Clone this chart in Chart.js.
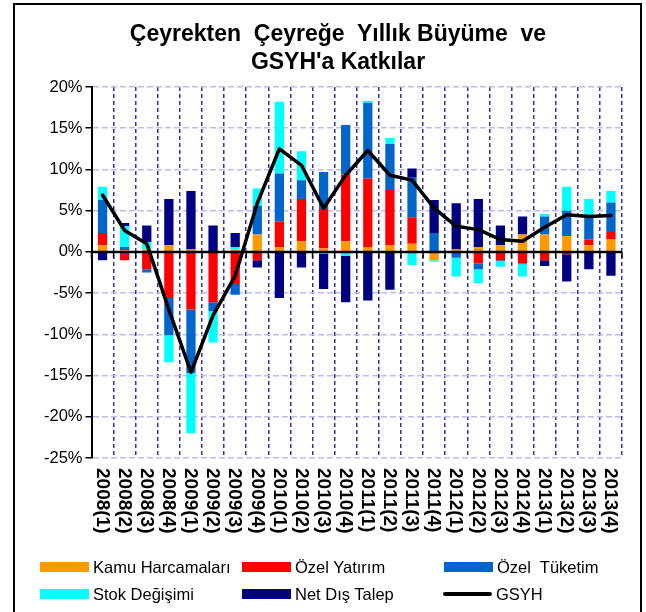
<!DOCTYPE html>
<html>
<head>
<meta charset="utf-8">
<script src="https://cdn.jsdelivr.net/npm/chart.js@4"></script>
<style>
	body { margin: 0; background: #fff; font-family: "Liberation Sans", Arial, sans-serif; }
	#wrap { position: relative; width: 646px; height: 612px; overflow: hidden; }
	#frame { position: absolute; left: 13px; top: 3px; width: 629px; height: 640px; border: 2px solid #000; box-sizing: border-box; }
	#title { position: absolute; left: 0; top: 19px; width: 676px; text-align: center; font-weight: bold; font-size: 23px; line-height: 28px; white-space: pre; }
	#chartBox { position: absolute; left: 0; top: 0; width: 646px; height: 612px; }
	.lg { position: absolute; font-size: 16.5px; white-space: pre; line-height: 20px; }
	.sw { position: absolute; width: 49px; height: 10px; }
</style>
</head>
<body>
<div id="wrap">
	<div id="frame"></div>
	<div id="chartBox"><canvas id="growth"></canvas></div>
	<div id="title">Çeyrekten  Çeyreğe  Yıllık Büyüme  ve
GSYH'a Katkılar</div>
	<div id="legend"></div>
</div>
<script>
// quarters
var quarters = ['2008(1)', '2008(2)', '2008(3)', '2008(4)',
	'2009(1)', '2009(2)', '2009(3)', '2009(4)',
	'2010(1)', '2010(2)', '2010(3)', '2010(4)',
	'2011(1)', '2011(2)', '2011(3)', '2011(4)',
	'2012(1)', '2012(2)', '2012(3)', '2012(4)',
	'2013(1)', '2013(2)', '2013(3)', '2013(4)'];

// contributions, percentage points
var kamu = [0.8, 0.2, 0.3, 0.8, 0.3, 0.0, 0.3, 2.1, 0.6, 1.3, 0.4, 1.3,
	0.6, 0.8, 1.0, -1.0, 0.3, 0.6, 0.8, 2.1, 2.1, 1.9, 0.8, 1.5];
var ozelYatirim = [1.5, -1.0, -2.1, -5.6, -7.0, -6.1, -3.9, -1.0, 3.1, 5.1, 4.8, 8.1,
	8.3, 6.7, 3.2, 0.0, 0.0, -1.4, -1.0, -1.4, -1.0, -0.3, 0.7, 0.9];
var ozelTuketim = [4.0, 0.4, -0.4, -4.5, -7.7, -1.1, -1.3, 3.5, 5.8, 2.3, 4.5, 6.0,
	9.2, 5.6, 4.8, 2.3, -0.7, -0.7, -0.1, -0.1, 2.2, 3.1, 3.0, 3.6];
var stok = [1.6, 2.5, 0.9, -3.3, -7.3, -3.8, 0.3, 2.1, 8.7, 3.5, -0.2, -0.5,
	0.2, 0.7, -1.6, -0.2, -2.3, -1.7, -0.7, -1.5, 0.3, 2.9, 1.9, 1.4];
var netDis = [-1.0, 0.4, 2.0, 5.6, 7.1, 3.2, 1.7, -0.9, -5.6, -1.9, -4.3, -5.6,
	-5.9, -4.6, 1.1, 4.0, 5.6, 5.8, 2.4, 2.2, -0.7, -3.3, -2.1, -2.9];
// GDP growth, yoy %
var gsyh = [6.9, 2.6, 1.0, -7.0, -14.6, -7.7, -2.9, 5.9, 12.5, 10.5, 5.3, 9.3,
	12.3, 9.3, 8.7, 5.3, 3.1, 2.7, 1.5, 1.3, 3.0, 4.5, 4.3, 4.4];

var seriesNames = ['Kamu Harcamaları', 'Özel Yatırım', 'Özel  Tüketim', 'Stok Değişimi', 'Net Dış Talep', 'GSYH'];
var seriesColors = ['#FF9900', '#FF0000', '#0066CC', '#00FFFF', '#000080', '#000000'];

const FONT = '"Liberation Sans", Arial, sans-serif';

// zero line with small ticks, drawn under the GSYH line
const zeroLine = {
	id: 'zeroLine',
	beforeDatasetDraw(chart, args) {
		if (args.meta.type !== 'line') return;
		const ctx = chart.ctx, xs = chart.scales.x, ys = chart.scales.y;
		const y0 = ys.getPixelForValue(0);
		const step = (xs.right - xs.left) / quarters.length;
		ctx.save();
		ctx.strokeStyle = '#000';
		ctx.lineWidth = 2.5;
		ctx.beginPath();
		ctx.moveTo(xs.left, y0);
		ctx.lineTo(xs.right, y0);
		ctx.stroke();
		ctx.lineWidth = 1.5;
		for (let i = 0; i <= quarters.length; i++) {
			const x = xs.left + i * step;
			ctx.beginPath();
			ctx.moveTo(x, y0);
			ctx.lineTo(x, y0 + 6);
			ctx.stroke();
		}
		ctx.restore();
	}
};

// vertical category labels reading top to bottom
const xLabels = {
	id: 'xLabels',
	afterDraw(chart) {
		const ctx = chart.ctx, xs = chart.scales.x;
		ctx.save();
		ctx.fillStyle = '#000';
		ctx.font = 'bold 19px ' + FONT;
		ctx.textAlign = 'left';
		ctx.textBaseline = 'middle';
		quarters.forEach((q, i) => {
			ctx.save();
			ctx.translate(xs.getPixelForTick(i) - 0.5, chart.chartArea.bottom + 10);
			ctx.rotate(Math.PI / 2);
			ctx.fillText(q, 0, 0);
			ctx.restore();
		});
		ctx.restore();
	}
};

const barSets = [kamu, ozelYatirim, ozelTuketim, stok, netDis].map((d, i) => ({
	type: 'bar',
	label: seriesNames[i],
	data: d,
	backgroundColor: seriesColors[i],
	borderWidth: 0,
	barPercentage: 0.42,
	categoryPercentage: 1,
	order: 1
}));

new Chart(document.getElementById('growth'), {
	type: 'bar',
	data: {
		labels: quarters,
		datasets: barSets.concat([{
			type: 'line',
			label: 'GSYH',
			data: gsyh,
			borderColor: '#000',
			borderWidth: 3.5,
			pointRadius: 0,
			tension: 0,
			borderJoinStyle: 'round',
			borderCapStyle: 'round',
			stack: 'gsyh',
			order: 0
		}])
	},
	options: {
		responsive: true,
		maintainAspectRatio: false,
		animation: false,
		layout: { padding: { left: 0, right: 24, top: 87, bottom: 0 } },
		plugins: { legend: { display: false }, tooltip: { enabled: false }, title: { display: false } },
		scales: {
			x: {
				stacked: true,
				offset: true,
				ticks: { display: false },
				grid: { offset: true, color: '#333399', lineWidth: 1.5, drawTicks: false },
				border: { display: false, dash: [4, 3] },
				afterFit(scale) { scale.height = 154; }
			},
			y: {
				stacked: true,
				min: -25,
				max: 20,
				ticks: {
					stepSize: 5,
					color: '#000',
					padding: 3,
					font: { family: FONT, size: 16.5 },
					callback: v => v + '%'
				},
				grid: { color: '#bcbcf0', lineWidth: 1.5, tickColor: '#000', tickLength: 6, tickWidth: 1.5 },
				border: { display: true, color: '#000', width: 2, dash: [6, 3] },
				afterFit(scale) { scale.width = 91.5; }
			}
		}
	},
	plugins: [zeroLine, xLabels]
});

// legend, three columns by two rows as in the source
var legendPos = [[40, 562], [242, 562], [444, 562], [40, 589], [242, 589], [443, 589]];
var lg = document.getElementById('legend');
seriesNames.forEach((name, i) => {
	const [x, y] = legendPos[i];
	const sw = document.createElement('div');
	sw.className = 'sw';
	sw.style.left = x + 'px';
	sw.style.background = seriesColors[i];
	if (i === 5) {
		sw.style.top = (y + 3) + 'px';
		sw.style.height = '4px';
		sw.style.borderRadius = '2px';
	} else {
		sw.style.top = y + 'px';
	}
	lg.appendChild(sw);
	const t = document.createElement('div');
	t.className = 'lg';
	t.style.left = (x + 53) + 'px';
	t.style.top = (y - 5) + 'px';
	t.textContent = name;
	lg.appendChild(t);
});
</script>
</body>
</html>
